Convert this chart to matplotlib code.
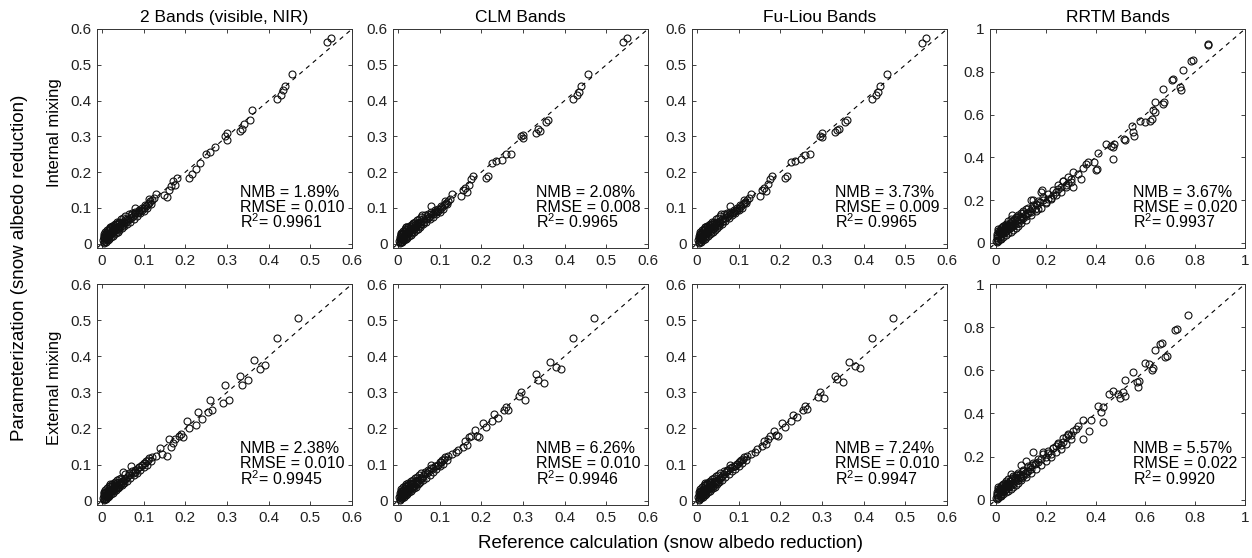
import matplotlib
matplotlib.use('Agg')
import matplotlib.pyplot as plt
from matplotlib.ticker import FuncFormatter

plt.rcParams['font.family'] = ['Liberation Sans', 'DejaVu Sans']
plt.rcParams['mathtext.default'] = 'regular'

titles = ['2 Bands (visible, NIR)', 'CLM Bands', 'Fu-Liou Bands', 'RRTM Bands']
row_labels = ['Internal mixing', 'External mixing']
nmb = [['1.89%', '2.08%', '3.73%', '3.67%'],
       ['2.38%', '6.26%', '7.24%', '5.57%']]
rmse = [['0.010', '0.008', '0.009', '0.020'],
        ['0.010', '0.010', '0.010', '0.022']]
r2 = [['0.9961', '0.9965', '0.9965', '0.9937'],
      ['0.9945', '0.9946', '0.9947', '0.9920']]

# reference values, internal mixing (2 bands, CLM, Fu-Liou)
x_int = [
    0.003, 0.004, 0.005, 0.005, 0.006, 0.007, 0.008, 0.008, 0.009, 0.010,
    0.010, 0.011, 0.012, 0.013, 0.014, 0.015, 0.015, 0.016, 0.017, 0.018,
    0.019, 0.020, 0.020, 0.022, 0.023, 0.024, 0.025, 0.026, 0.028, 0.029,
    0.030, 0.032, 0.033, 0.035, 0.036, 0.038, 0.040, 0.042, 0.044, 0.046,
    0.048, 0.050, 0.052, 0.054, 0.056, 0.058, 0.060, 0.063, 0.066, 0.070,
    0.072, 0.075, 0.078, 0.080, 0.085, 0.088, 0.090, 0.095, 0.100, 0.105,
    0.110, 0.112, 0.115, 0.120, 0.125, 0.130, 0.150, 0.155, 0.160, 0.165,
    0.170, 0.175, 0.180, 0.210, 0.215, 0.225, 0.235, 0.250, 0.260, 0.270,
    0.295, 0.300, 0.300, 0.330, 0.335, 0.340, 0.355, 0.360, 0.420, 0.430,
    0.435, 0.440, 0.455, 0.540, 0.550,
    0.004, 0.006, 0.008, 0.010, 0.012, 0.014, 0.016, 0.018, 0.020, 0.022,
    0.024, 0.026, 0.028, 0.030, 0.032, 0.034, 0.036, 0.038, 0.040, 0.042,
    0.045, 0.048, 0.050, 0.053, 0.056, 0.060, 0.064, 0.068, 0.072, 0.076,
    0.080, 0.084, 0.088, 0.092, 0.096, 0.100, 0.104, 0.108, 0.112, 0.118]
y_int_2b = [
    0.010, 0.002, 0.015, 0.005, 0.020, 0.012, 0.025, 0.008, 0.018, 0.030,
    0.015, 0.022, 0.012, 0.028, 0.020, 0.035, 0.018, 0.025, 0.030, 0.022,
    0.040, 0.028, 0.045, 0.032, 0.038, 0.030, 0.048, 0.035, 0.040, 0.045,
    0.036, 0.050, 0.040, 0.045, 0.055, 0.042, 0.050, 0.058, 0.048, 0.055,
    0.060, 0.052, 0.062, 0.058, 0.065, 0.060, 0.070, 0.065, 0.072, 0.080,
    0.075, 0.078, 0.085, 0.100, 0.085, 0.090, 0.092, 0.095, 0.100, 0.105,
    0.110, 0.115, 0.118, 0.122, 0.128, 0.140, 0.135, 0.130, 0.150, 0.160,
    0.175, 0.165, 0.185, 0.185, 0.195, 0.210, 0.225, 0.250, 0.255, 0.270,
    0.300, 0.310, 0.290, 0.315, 0.320, 0.335, 0.345, 0.375, 0.405, 0.415,
    0.430, 0.440, 0.475, 0.565, 0.575,
    0.022, 0.028, 0.032, 0.006, 0.038, 0.010, 0.042, 0.014, 0.048, 0.018,
    0.050, 0.022, 0.052, 0.026, 0.055, 0.030, 0.060, 0.034, 0.062, 0.038,
    0.068, 0.044, 0.072, 0.050, 0.078, 0.055, 0.082, 0.062, 0.085, 0.070,
    0.090, 0.078, 0.095, 0.085, 0.100, 0.092, 0.108, 0.100, 0.125, 0.112]
y_int_clm = [
    0.008, 0.002, 0.014, 0.004, 0.018, 0.010, 0.024, 0.006, 0.016, 0.028,
    0.014, 0.020, 0.010, 0.026, 0.018, 0.034, 0.016, 0.024, 0.028, 0.020,
    0.038, 0.026, 0.046, 0.030, 0.036, 0.028, 0.046, 0.034, 0.038, 0.044,
    0.034, 0.048, 0.038, 0.044, 0.054, 0.040, 0.048, 0.056, 0.046, 0.052,
    0.058, 0.050, 0.060, 0.056, 0.062, 0.080, 0.068, 0.062, 0.070, 0.078,
    0.072, 0.076, 0.082, 0.105, 0.084, 0.088, 0.090, 0.092, 0.098, 0.102,
    0.108, 0.112, 0.115, 0.120, 0.125, 0.138, 0.132, 0.150, 0.155, 0.145,
    0.165, 0.180, 0.190, 0.185, 0.190, 0.225, 0.230, 0.235, 0.250, 0.250,
    0.300, 0.305, 0.295, 0.310, 0.320, 0.315, 0.340, 0.345, 0.405, 0.415,
    0.425, 0.440, 0.475, 0.565, 0.575,
    0.020, 0.026, 0.030, 0.005, 0.036, 0.009, 0.040, 0.013, 0.046, 0.017,
    0.048, 0.021, 0.050, 0.025, 0.053, 0.029, 0.058, 0.033, 0.060, 0.037,
    0.066, 0.042, 0.070, 0.048, 0.076, 0.054, 0.080, 0.060, 0.083, 0.068,
    0.088, 0.076, 0.093, 0.083, 0.098, 0.090, 0.106, 0.098, 0.120, 0.110]
y_int_fl = [
    0.010, 0.002, 0.016, 0.005, 0.020, 0.012, 0.026, 0.007, 0.018, 0.030,
    0.016, 0.022, 0.012, 0.028, 0.020, 0.036, 0.018, 0.026, 0.030, 0.022,
    0.040, 0.028, 0.048, 0.032, 0.038, 0.030, 0.048, 0.036, 0.040, 0.046,
    0.036, 0.050, 0.040, 0.046, 0.056, 0.042, 0.050, 0.058, 0.048, 0.054,
    0.060, 0.052, 0.062, 0.058, 0.064, 0.082, 0.070, 0.064, 0.072, 0.080,
    0.074, 0.078, 0.084, 0.105, 0.086, 0.090, 0.092, 0.094, 0.100, 0.104,
    0.110, 0.114, 0.116, 0.122, 0.128, 0.140, 0.134, 0.150, 0.155, 0.148,
    0.168, 0.180, 0.188, 0.185, 0.190, 0.228, 0.232, 0.238, 0.248, 0.250,
    0.300, 0.310, 0.298, 0.312, 0.318, 0.320, 0.340, 0.345, 0.405, 0.415,
    0.425, 0.440, 0.475, 0.562, 0.575,
    0.022, 0.028, 0.032, 0.006, 0.038, 0.010, 0.042, 0.014, 0.048, 0.018,
    0.050, 0.022, 0.052, 0.026, 0.055, 0.030, 0.060, 0.034, 0.062, 0.038,
    0.068, 0.044, 0.072, 0.050, 0.078, 0.056, 0.082, 0.063, 0.085, 0.071,
    0.090, 0.079, 0.095, 0.086, 0.100, 0.093, 0.108, 0.101, 0.122, 0.113]

# reference values, external mixing (2 bands, CLM, Fu-Liou)
x_ext = [
    0.003, 0.004, 0.005, 0.005, 0.006, 0.007, 0.008, 0.008, 0.009, 0.010,
    0.010, 0.011, 0.012, 0.013, 0.014, 0.015, 0.015, 0.016, 0.017, 0.018,
    0.019, 0.020, 0.020, 0.022, 0.023, 0.024, 0.025, 0.026, 0.028, 0.029,
    0.030, 0.032, 0.033, 0.035, 0.036, 0.038, 0.040, 0.042, 0.044, 0.046,
    0.048, 0.050, 0.052, 0.055, 0.058, 0.060, 0.065, 0.070, 0.075, 0.080,
    0.085, 0.090, 0.095, 0.100, 0.105, 0.110, 0.120, 0.130, 0.140, 0.145,
    0.155, 0.160, 0.165, 0.170, 0.175, 0.185, 0.190, 0.195, 0.205, 0.210,
    0.225, 0.230, 0.240, 0.255, 0.260, 0.265, 0.290, 0.295, 0.305, 0.330,
    0.335, 0.350, 0.365, 0.380, 0.390, 0.420, 0.470,
    0.004, 0.006, 0.008, 0.010, 0.012, 0.014, 0.016, 0.018, 0.020, 0.022,
    0.024, 0.026, 0.028, 0.030, 0.032, 0.034, 0.036, 0.038, 0.040, 0.042,
    0.045, 0.048, 0.050, 0.053, 0.056, 0.060, 0.064, 0.068, 0.072, 0.076,
    0.080, 0.084, 0.088, 0.092, 0.096, 0.100, 0.104, 0.108, 0.112, 0.118]
y_ext_2b = [
    0.008, 0.002, 0.012, 0.004, 0.016, 0.010, 0.020, 0.006, 0.015, 0.025,
    0.012, 0.018, 0.010, 0.024, 0.016, 0.030, 0.014, 0.022, 0.026, 0.018,
    0.034, 0.024, 0.040, 0.028, 0.032, 0.026, 0.042, 0.030, 0.035, 0.040,
    0.032, 0.045, 0.036, 0.040, 0.048, 0.038, 0.046, 0.052, 0.044, 0.050,
    0.055, 0.048, 0.058, 0.060, 0.062, 0.065, 0.070, 0.095, 0.078, 0.080,
    0.088, 0.092, 0.098, 0.105, 0.110, 0.112, 0.120, 0.125, 0.145, 0.130,
    0.125, 0.170, 0.150, 0.160, 0.170, 0.180, 0.185, 0.175, 0.220, 0.200,
    0.210, 0.245, 0.225, 0.245, 0.280, 0.250, 0.270, 0.320, 0.280, 0.345,
    0.320, 0.335, 0.390, 0.365, 0.375, 0.450, 0.505,
    0.020, 0.025, 0.030, 0.006, 0.035, 0.010, 0.040, 0.014, 0.045, 0.018,
    0.046, 0.022, 0.048, 0.026, 0.052, 0.030, 0.056, 0.034, 0.060, 0.038,
    0.064, 0.044, 0.080, 0.050, 0.074, 0.055, 0.078, 0.062, 0.082, 0.070,
    0.086, 0.078, 0.092, 0.085, 0.098, 0.092, 0.104, 0.100, 0.118, 0.110]
y_ext_clm = [
    0.010, 0.003, 0.014, 0.006, 0.018, 0.012, 0.022, 0.008, 0.017, 0.027,
    0.014, 0.020, 0.012, 0.026, 0.018, 0.032, 0.016, 0.024, 0.028, 0.020,
    0.036, 0.026, 0.042, 0.030, 0.034, 0.028, 0.044, 0.032, 0.037, 0.042,
    0.034, 0.047, 0.038, 0.042, 0.050, 0.040, 0.048, 0.054, 0.046, 0.052,
    0.057, 0.050, 0.060, 0.062, 0.064, 0.068, 0.073, 0.078, 0.082, 0.100,
    0.090, 0.095, 0.100, 0.108, 0.112, 0.115, 0.124, 0.128, 0.135, 0.140,
    0.150, 0.165, 0.155, 0.175, 0.180, 0.195, 0.180, 0.175, 0.215, 0.205,
    0.220, 0.240, 0.230, 0.250, 0.260, 0.250, 0.290, 0.300, 0.280, 0.350,
    0.335, 0.325, 0.385, 0.370, 0.365, 0.450, 0.505,
    0.022, 0.027, 0.032, 0.007, 0.037, 0.011, 0.042, 0.015, 0.047, 0.019,
    0.048, 0.023, 0.050, 0.027, 0.054, 0.031, 0.058, 0.035, 0.062, 0.039,
    0.066, 0.046, 0.070, 0.052, 0.076, 0.057, 0.080, 0.064, 0.085, 0.072,
    0.090, 0.080, 0.095, 0.088, 0.100, 0.095, 0.108, 0.102, 0.120, 0.112]
y_ext_fl = [
    0.010, 0.003, 0.015, 0.006, 0.019, 0.012, 0.023, 0.008, 0.018, 0.028,
    0.015, 0.021, 0.012, 0.027, 0.019, 0.033, 0.017, 0.025, 0.029, 0.021,
    0.037, 0.027, 0.043, 0.031, 0.035, 0.029, 0.045, 0.033, 0.038, 0.043,
    0.035, 0.048, 0.039, 0.043, 0.051, 0.041, 0.049, 0.055, 0.047, 0.053,
    0.058, 0.051, 0.061, 0.063, 0.065, 0.069, 0.074, 0.080, 0.084, 0.098,
    0.092, 0.096, 0.102, 0.108, 0.113, 0.116, 0.125, 0.130, 0.136, 0.142,
    0.152, 0.165, 0.158, 0.172, 0.180, 0.192, 0.182, 0.178, 0.215, 0.205,
    0.222, 0.238, 0.232, 0.252, 0.262, 0.255, 0.288, 0.300, 0.285, 0.345,
    0.338, 0.330, 0.385, 0.372, 0.368, 0.450, 0.505,
    0.023, 0.028, 0.033, 0.007, 0.038, 0.011, 0.043, 0.015, 0.048, 0.019,
    0.049, 0.023, 0.051, 0.027, 0.055, 0.031, 0.059, 0.035, 0.063, 0.039,
    0.067, 0.046, 0.071, 0.052, 0.077, 0.058, 0.081, 0.065, 0.086, 0.073,
    0.091, 0.081, 0.096, 0.089, 0.101, 0.096, 0.109, 0.103, 0.121, 0.113]

# RRTM, internal mixing
x_rrtm_int = [
    0.002, 0.004, 0.005, 0.006, 0.008, 0.010, 0.010, 0.012, 0.014, 0.015,
    0.016, 0.018, 0.020, 0.020, 0.022, 0.025, 0.025, 0.028, 0.030, 0.030,
    0.032, 0.035, 0.035, 0.038, 0.040, 0.040, 0.043, 0.045, 0.048, 0.050,
    0.050, 0.053, 0.055, 0.058, 0.060, 0.060, 0.065, 0.065, 0.070, 0.070,
    0.075, 0.080, 0.080, 0.085, 0.090, 0.090, 0.095, 0.100, 0.100, 0.105,
    0.110, 0.110, 0.115, 0.120, 0.120, 0.125, 0.130, 0.135, 0.140, 0.140,
    0.145, 0.150, 0.155, 0.160, 0.165, 0.170, 0.175, 0.180, 0.185, 0.190,
    0.200, 0.210, 0.220, 0.230, 0.240, 0.250, 0.260, 0.270, 0.280, 0.290,
    0.300, 0.310, 0.310, 0.330, 0.340, 0.350, 0.360, 0.370, 0.395, 0.400,
    0.405, 0.410, 0.440, 0.460, 0.470, 0.470, 0.475, 0.515, 0.520, 0.545,
    0.550, 0.555, 0.580, 0.600, 0.620, 0.625, 0.630, 0.640, 0.640, 0.670,
    0.670, 0.675, 0.705, 0.710, 0.740, 0.745, 0.750, 0.785, 0.790, 0.850,
    0.850,
    0.005, 0.010, 0.015, 0.020, 0.025, 0.030, 0.035, 0.040, 0.045, 0.050,
    0.055, 0.060, 0.065, 0.070, 0.075, 0.080, 0.085, 0.090, 0.095, 0.100,
    0.110, 0.120, 0.130, 0.140, 0.150, 0.160, 0.170, 0.180, 0.190, 0.200,
    0.210, 0.220, 0.230, 0.240, 0.250, 0.260, 0.270, 0.280, 0.290, 0.300]
y_rrtm_int = [
    0.010, 0.040, 0.005, 0.030, 0.055, 0.015, 0.065, 0.035, 0.050, 0.020,
    0.060, 0.045, 0.030, 0.070, 0.055, 0.040, 0.075, 0.060, 0.045, 0.080,
    0.060, 0.050, 0.085, 0.070, 0.055, 0.090, 0.075, 0.060, 0.080, 0.065,
    0.100, 0.080, 0.070, 0.090, 0.075, 0.110, 0.085, 0.130, 0.080, 0.105,
    0.095, 0.090, 0.120, 0.105, 0.095, 0.130, 0.110, 0.105, 0.140, 0.120,
    0.115, 0.150, 0.130, 0.125, 0.160, 0.140, 0.140, 0.150, 0.145, 0.200,
    0.165, 0.200, 0.160, 0.180, 0.175, 0.160, 0.190, 0.240, 0.245, 0.200,
    0.190, 0.205, 0.210, 0.225, 0.240, 0.250, 0.260, 0.290, 0.270, 0.280,
    0.300, 0.330, 0.260, 0.320, 0.300, 0.350, 0.370, 0.380, 0.380, 0.340,
    0.345, 0.420, 0.460, 0.455, 0.390, 0.450, 0.460, 0.485, 0.480, 0.545,
    0.520, 0.500, 0.570, 0.565, 0.570, 0.580, 0.620, 0.660, 0.610, 0.720,
    0.650, 0.660, 0.760, 0.765, 0.730, 0.715, 0.810, 0.850, 0.855, 0.925,
    0.930,
    0.025, 0.008, 0.045, 0.018, 0.060, 0.028, 0.072, 0.038, 0.085, 0.045,
    0.095, 0.052, 0.100, 0.062, 0.112, 0.070, 0.120, 0.080, 0.125, 0.092,
    0.140, 0.108, 0.165, 0.128, 0.175, 0.148, 0.195, 0.165, 0.215, 0.185,
    0.230, 0.205, 0.245, 0.225, 0.270, 0.240, 0.290, 0.262, 0.310, 0.285]

# RRTM, external mixing
x_rrtm_ext = [
    0.002, 0.004, 0.005, 0.006, 0.008, 0.010, 0.010, 0.012, 0.014, 0.015,
    0.016, 0.018, 0.020, 0.020, 0.022, 0.025, 0.025, 0.028, 0.030, 0.030,
    0.032, 0.035, 0.035, 0.038, 0.040, 0.040, 0.043, 0.045, 0.048, 0.050,
    0.050, 0.053, 0.055, 0.058, 0.060, 0.060, 0.065, 0.065, 0.070, 0.070,
    0.075, 0.080, 0.080, 0.085, 0.090, 0.090, 0.095, 0.100, 0.100, 0.105,
    0.110, 0.110, 0.115, 0.120, 0.120, 0.125, 0.130, 0.135, 0.140, 0.145,
    0.150, 0.155, 0.160, 0.170, 0.180, 0.190, 0.200, 0.210, 0.220, 0.230,
    0.240, 0.250, 0.260, 0.270, 0.280, 0.290, 0.300, 0.310, 0.320, 0.330,
    0.350, 0.350, 0.375, 0.380, 0.410, 0.420, 0.430, 0.430, 0.455, 0.470,
    0.490, 0.500, 0.510, 0.520, 0.520, 0.550, 0.565, 0.570, 0.575, 0.600,
    0.615, 0.625, 0.630, 0.640, 0.660, 0.665, 0.680, 0.685, 0.720, 0.725,
    0.770,
    0.005, 0.010, 0.015, 0.020, 0.025, 0.030, 0.035, 0.040, 0.045, 0.050,
    0.055, 0.060, 0.065, 0.070, 0.075, 0.080, 0.085, 0.090, 0.095, 0.100,
    0.110, 0.120, 0.130, 0.140, 0.150, 0.160, 0.170, 0.180, 0.190, 0.200,
    0.210, 0.220, 0.230, 0.240, 0.250, 0.260, 0.270, 0.280, 0.290, 0.300]
y_rrtm_ext = [
    0.008, 0.035, 0.004, 0.025, 0.050, 0.012, 0.060, 0.030, 0.045, 0.018,
    0.055, 0.040, 0.028, 0.065, 0.050, 0.036, 0.070, 0.055, 0.042, 0.075,
    0.056, 0.046, 0.080, 0.065, 0.052, 0.085, 0.070, 0.056, 0.075, 0.062,
    0.095, 0.075, 0.066, 0.085, 0.070, 0.120, 0.080, 0.100, 0.075, 0.110,
    0.090, 0.085, 0.115, 0.100, 0.090, 0.125, 0.105, 0.100, 0.160, 0.115,
    0.110, 0.140, 0.125, 0.120, 0.180, 0.135, 0.135, 0.150, 0.145, 0.160,
    0.220, 0.165, 0.170, 0.175, 0.190, 0.220, 0.200, 0.215, 0.210, 0.240,
    0.250, 0.260, 0.255, 0.270, 0.290, 0.300, 0.300, 0.320, 0.330, 0.340,
    0.370, 0.280, 0.320, 0.370, 0.435, 0.405, 0.430, 0.360, 0.490, 0.505,
    0.490, 0.470, 0.500, 0.555, 0.480, 0.590, 0.545, 0.525, 0.550, 0.635,
    0.630, 0.600, 0.610, 0.695, 0.720, 0.725, 0.660, 0.665, 0.785, 0.790,
    0.855,
    0.022, 0.007, 0.040, 0.016, 0.055, 0.026, 0.066, 0.036, 0.078, 0.043,
    0.088, 0.050, 0.095, 0.060, 0.105, 0.068, 0.115, 0.078, 0.120, 0.090,
    0.135, 0.105, 0.158, 0.125, 0.170, 0.145, 0.190, 0.162, 0.210, 0.182,
    0.225, 0.200, 0.240, 0.220, 0.265, 0.235, 0.285, 0.258, 0.305, 0.280]

panels = [
    [(x_int, y_int_2b), (x_int, y_int_clm), (x_int, y_int_fl),
     (x_rrtm_int, y_rrtm_int)],
    [(x_ext, y_ext_2b), (x_ext, y_ext_clm), (x_ext, y_ext_fl),
     (x_rrtm_ext, y_rrtm_ext)],
]

W, H = 1252, 558
fig = plt.figure(figsize=(W / 100, H / 100), dpi=100)

lefts = [97, 393, 692, 990]
bottoms = [248, 505]
heights = [219, 221]
fmt = FuncFormatter(lambda v, p: '%g' % round(v, 2))

for r in range(2):
    for c in range(4):
        ax = fig.add_axes([lefts[c] / W, 1 - bottoms[r] / H,
                           255 / W, heights[r] / H])
        if c == 3:
            top, lo, step = 1.0, -0.024, 0.2
        else:
            top, lo, step = 0.6, -0.012, 0.1
        ax.plot([lo, top], [lo, top], color='k', lw=0.8, ls=(0, (4, 4)))
        x, y = panels[r][c]
        ax.plot(x, y, 'o', ms=5.0, mfc='none', mec='#111111', mew=0.8)
        ax.set_xlim(lo, top)
        ax.set_ylim(lo, top)
        ticks = [i * step for i in range(int(round(top / step)) + 1)]
        ax.set_xticks(ticks)
        ax.set_yticks(ticks)
        ax.xaxis.set_major_formatter(fmt)
        ax.yaxis.set_major_formatter(fmt)
        ax.tick_params(direction='in', top=True, right=True, length=3,
                       width=0.6, labelsize=11, pad=4, colors='#222222')
        for s in ax.spines.values():
            s.set_linewidth(0.7)
            s.set_color('#333333')
        ax.text(0.56, 0.255, 'NMB = ' + nmb[r][c], transform=ax.transAxes,
                fontsize=11.5, va='center')
        ax.text(0.56, 0.187, 'RMSE = ' + rmse[r][c], transform=ax.transAxes,
                fontsize=11.5, va='center')
        ax.text(0.56, 0.12, 'R$^2$= ' + r2[r][c], transform=ax.transAxes,
                fontsize=11.5, va='center')
        if r == 0:
            ax.set_title(titles[c], fontsize=12.5, pad=5)

fig.text(55 / W, 1 - 133 / H, row_labels[0], rotation=90, fontsize=12,
         ha='center', va='center')
fig.text(55 / W, 1 - 388 / H, row_labels[1], rotation=90, fontsize=12,
         ha='center', va='center')
fig.text(20 / W, 1 - 268 / H, 'Parameterization (snow albedo reduction)',
         rotation=90, fontsize=13.5, ha='center', va='center')
fig.text(670 / W, 1 - 543 / H, 'Reference calculation (snow albedo reduction)',
         fontsize=13.5, ha='center', va='center')

fig.savefig('out.png', dpi=100)
